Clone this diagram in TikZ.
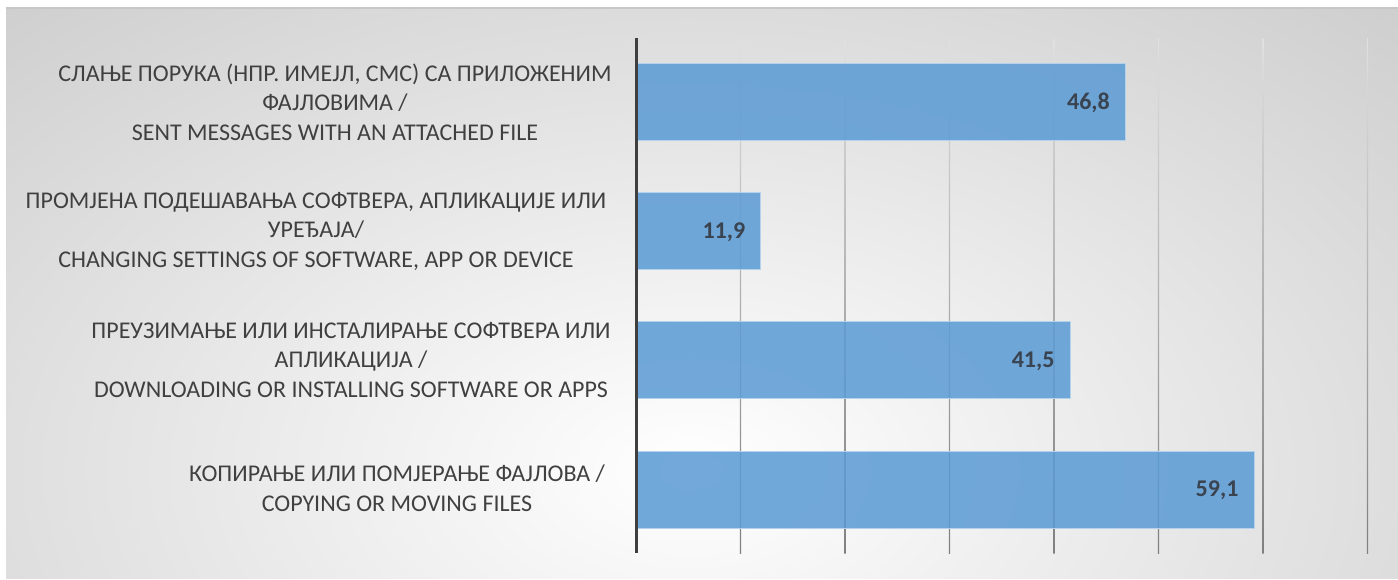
\documentclass[tikz,border=0pt]{standalone}
\usepackage{fontspec}
\setmainfont{Carlito}
\definecolor{barblue}{HTML}{5B9BD5}
\definecolor{labgray}{HTML}{404040}
\definecolor{valcol}{HTML}{3A4350}
\definecolor{axiscol}{HTML}{3F3F3F}
\tikzset{
  catlabel/.style={align=center, text=labgray, inner sep=0pt,
    font=\fontsize{24}{29.5}\selectfont},
  vallabel/.style={anchor=east, text=valcol, inner sep=0pt,
    font=\fontsize{24}{29}\selectfont\bfseries},
  barbox/.style={fill=barblue, fill opacity=0.86, draw=barblue!45!white, line width=1pt},
  gridline/.style={top color=black!12, bottom color=black!50, draw=none},
}
\begin{document}
\begin{tikzpicture}[x=1pt,y=-1pt]
\useasboundingbox (0,0) rectangle (1398,579);
\fill[white] (0,0) rectangle (1398,579);
% background with radial gradient
\begin{scope}
  \clip (6,8) rectangle (1398,578);
  \shade[inner color=white, outer color=black!27] (-770,-430) rectangle (2150,1370);
\end{scope}
\draw[black!22, line width=1.2pt] (6,8) -- (1398,8);
% gridlines
\foreach \k in {1,...,7} {
  \pgfmathsetmacro{\gx}{636+104.5*\k}
  \shade[gridline] (\gx-0.7,38) rectangle (\gx+0.7,553);
}
% bars
\node[barbox, inner sep=0pt, minimum width=489pt, minimum height=77pt, anchor=west] (b1) at (636,101.5) {};
\node[barbox, inner sep=0pt, minimum width=124.4pt, minimum height=77pt, anchor=west] (b2) at (636,231) {};
\node[barbox, inner sep=0pt, minimum width=433.7pt, minimum height=77pt, anchor=west] (b3) at (636,360) {};
\node[barbox, inner sep=0pt, minimum width=617.6pt, minimum height=77pt, anchor=west] (b4) at (636,489.5) {};
% value labels
\node[vallabel] (v1) at ([xshift=-16pt,yshift=-1pt]b1.east) {46,8};
\node[vallabel] (v2) at ([xshift=-16pt,yshift=-1pt]b2.east) {11,9};
\node[vallabel] (v3) at ([xshift=-16pt,yshift=-1pt]b3.east) {41,5};
\node[vallabel] (v4) at ([xshift=-16pt,yshift=-1pt]b4.east) {59,1};
% axis
\coordinate (axtop) at (636,38);
\coordinate (axbot) at (636,553);
\draw[axiscol, line width=3pt] (axtop) -- (axbot);
% category labels
\node[catlabel] (l1) at (335,102) {СЛАЊЕ ПОРУКА (НПР. ИМЕЈЛ, СМС) СА ПРИЛОЖЕНИМ\\ФАЈЛОВИМА /\\SENT MESSAGES WITH AN ATTACHED FILE};
\node[catlabel] (l2) at (316,231) {ПРОМЈЕНА ПОДЕШАВАЊА СОФТВЕРА, АПЛИКАЦИЈЕ ИЛИ\\УРЕЂАЈА/\\CHANGING SETTINGS OF SOFTWARE, APP OR DEVICE};
\node[catlabel] (l3) at (351,360) {ПРЕУЗИМАЊЕ ИЛИ ИНСТАЛИРАЊЕ СОФТВЕРА ИЛИ\\АПЛИКАЦИЈА /\\DOWNLOADING OR INSTALLING SOFTWARE OR APPS};
\node[catlabel] (l4) at (397,488) {КОПИРАЊЕ ИЛИ ПОМЈЕРАЊЕ ФАЈЛОВА /\\COPYING OR MOVING FILES};
\end{tikzpicture}
\end{document}
